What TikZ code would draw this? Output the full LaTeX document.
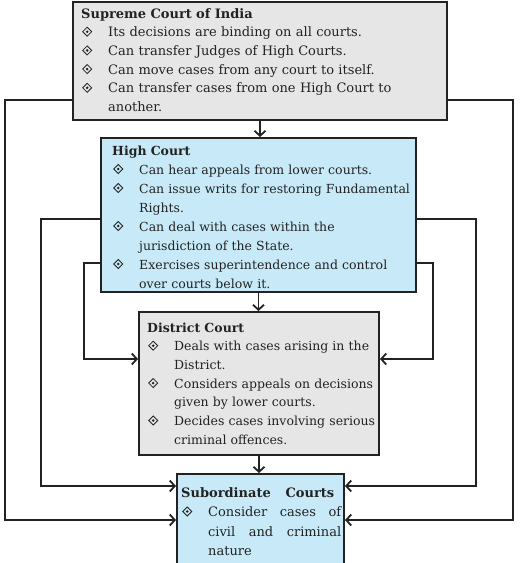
\documentclass[tikz,border=0pt]{standalone}
\usepackage{fontspec}
\setmainfont{DejaVu Serif}
\usetikzlibrary{arrows.meta}
\definecolor{bluefill}{HTML}{C8EAF8}
\definecolor{grayfill}{HTML}{E6E6E6}
\definecolor{ink}{HTML}{222222}
\newcommand{\dbul}{\tikz[baseline=0pt,x=1pt,y=1pt,line width=0.8pt]{\useasboundingbox (0,0) rectangle (27,1); \draw[ink] (6,9.5)--(10.5,5)--(6,0.5)--(1.5,5)--cycle; \fill[ink] (6,5) circle (1.4);}}
\newcommand{\cont}{\hspace*{27pt}}
\begin{document}
\begin{tikzpicture}[x=1pt,y=-1pt,
  box/.style={draw=ink, line width=2pt, inner sep=0pt},
  txt/.style={anchor=base west, inner sep=0pt, align=left, text=ink},
  conn/.style={draw=ink, line width=1.8pt, -{Straight Barb[length=5pt,width=11pt]}}]
\useasboundingbox (0,0) rectangle (531,563);
\fill[white] (0,0) rectangle (531,563);
% boxes
\node[box, fill=grayfill, minimum width=374pt, minimum height=118.5pt] (sc) at (260,60.75) {};
\node[box, fill=bluefill, minimum width=315pt, minimum height=154pt] (hc) at (258.5,215) {};
\node[box, fill=grayfill, minimum width=240pt, minimum height=143pt] (dc) at (259,383.5) {};
\node[box, fill=bluefill, minimum width=167pt, minimum height=101pt] (sub) at (260.5,524.5) {};
% texts
\node[txt, text width=360pt, font=\fontsize{13}{18.7}\selectfont] (sct) at (81,18) {%
\textbf{Supreme Court of India}\\
\dbul Its decisions are binding on all courts.\\
\dbul Can transfer Judges of High Courts.\\
\dbul Can move cases from any court to itself.\\
\dbul Can transfer cases from one High Court to\\
\cont another.};
\node[txt, text width=300pt, font=\fontsize{12.5}{19}\selectfont] (hct) at (112,155) {%
\textbf{High Court}\\
\dbul Can hear appeals from lower courts.\\
\dbul Can issue writs for restoring Fundamental\\
\cont Rights.\\
\dbul Can deal with cases within the\\
\cont jurisdiction of the State.\\
\dbul Exercises superintendence and control\\
\cont over courts below it.};
\node[txt, text width=230pt, font=\fontsize{12.5}{18.7}\selectfont] (dct) at (147,332) {%
\textbf{District Court}\\
\dbul Deals with cases arising in the\\
\cont District.\\
\dbul Considers appeals on decisions\\
\cont given by lower courts.\\
\dbul Decides cases involving serious\\
\cont criminal offences.};
\node[txt, text width=160pt, font=\fontsize{13}{19.5}\selectfont] (subt) at (181,497) {%
\makebox[153pt][l]{\textbf{Subordinate\hfill Courts}}\\
\dbul\makebox[133pt][l]{Consider\hfill cases\hfill of}\\
\cont\makebox[133pt][l]{civil\hfill and\hfill criminal}\\
\cont nature};
% vertical arrows
\draw[conn] (sc.south) -- (sc.south |- hc.north);
\draw[conn] (hc.south) -- (hc.south |- dc.north);
\draw[conn] (dc.south) -- (dc.south |- sub.north);
% loop coordinates
\coordinate (a1) at (5,100);   \coordinate (a2) at (5,520);
\coordinate (b1) at (513,100); \coordinate (b2) at (513,520);
\coordinate (c1) at (41,219);  \coordinate (c2) at (41,486);
\coordinate (d1) at (476,219); \coordinate (d2) at (476,486);
\coordinate (e1) at (84,263);  \coordinate (e2) at (84,359);
\coordinate (f1) at (433,263); \coordinate (f2) at (433,359);
\draw[conn] (a1 -| sc.west) -- (a1) -- (a2) -- (a2 -| sub.west);
\draw[conn] (b1 -| sc.east) -- (b1) -- (b2) -- (b2 -| sub.east);
\draw[conn] (c1 -| hc.west) -- (c1) -- (c2) -- (c2 -| sub.west);
\draw[conn] (d1 -| hc.east) -- (d1) -- (d2) -- (d2 -| sub.east);
\draw[conn] (e1 -| hc.west) -- (e1) -- (e2) -- (e2 -| dc.west);
\draw[conn] (f1 -| hc.east) -- (f1) -- (f2) -- (f2 -| dc.east);
\end{tikzpicture}
\end{document}
